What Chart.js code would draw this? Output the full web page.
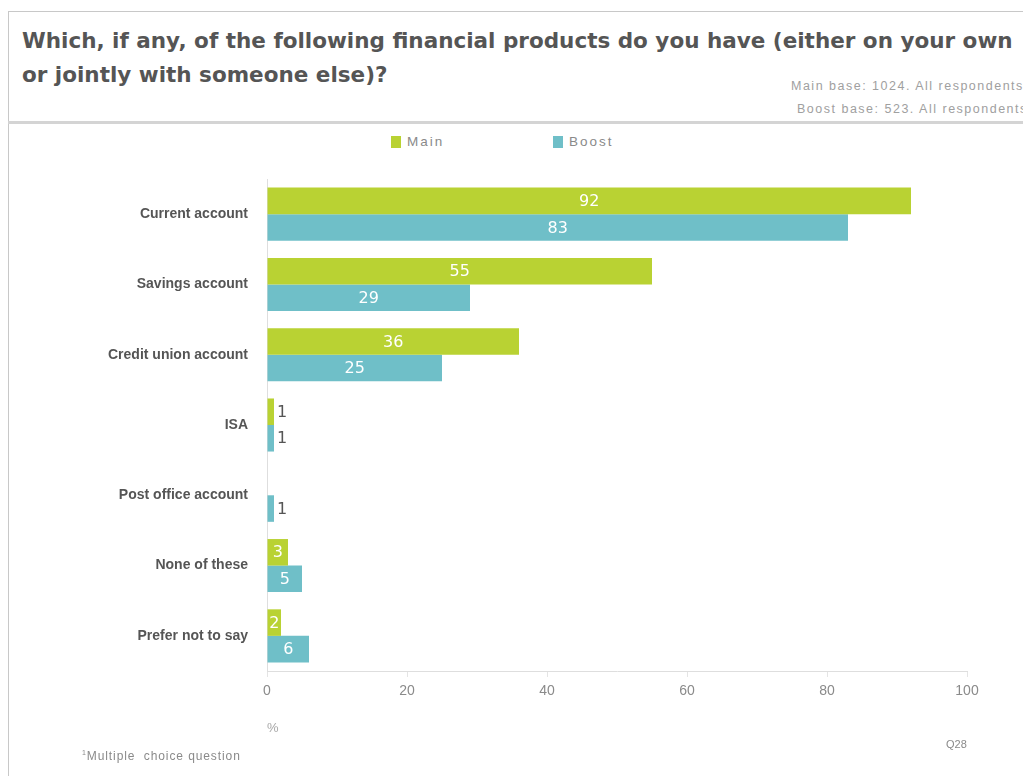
<!DOCTYPE html>
<html>
<head>
<meta charset="utf-8">
<title>Financial products</title>
<script src="https://cdn.jsdelivr.net/npm/chart.js@4"></script>
<style>
  body { margin: 0; width: 1023px; height: 776px; overflow: hidden; background: #fff; position: relative; font-family: "Liberation Sans", Arial, sans-serif; }
  .frame { position: absolute; left: 8px; top: 11px; width: 1100px; height: 900px; border: 1px solid #c8c8c8; }
  .title { position: absolute; left: 22px; top: 24px; font: bold 21.5px "DejaVu Sans", sans-serif; color: #555; line-height: 34px; white-space: nowrap; }
  .base { position: absolute; font: 12.5px "Liberation Sans", sans-serif; letter-spacing: 1.5px; color: #a0a0a0; white-space: nowrap; }
  .sep { position: absolute; left: 8px; top: 121px; width: 1015px; height: 3px; background: #d4d4d4; }
  .legend { position: absolute; top: 134px; font: 13.5px "Liberation Sans", sans-serif; letter-spacing: 2px; color: #8a8a8a; }
  .legend span { display: inline-block; width: 10px; height: 12px; vertical-align: -2px; margin-right: 6px; }
  .foot { position: absolute; font: 12px "Liberation Sans", sans-serif; letter-spacing: 0.9px; color: #8a8a8a; white-space: nowrap; }
  #chartBox { position: absolute; left: 0; top: 160px; width: 1023px; height: 616px; }
</style>
</head>
<body>
<div class="frame"></div>
<div class="title">Which, if any, of the following financial products do you have (either on your own<br>or jointly with someone else)?</div>
<div class="base" style="left:791px; top:79px;">Main base: 1024. All respondents</div>
<div class="base" style="left:797px; top:102px;">Boost base: 523. All respondents</div>
<div class="sep"></div>
<div class="legend" style="left:391px;"><span style="background:#b9d233"></span>Main</div>
<div class="legend" style="left:553px;"><span style="background:#6fbfc8"></span>Boost</div>
<div id="chartBox"><canvas id="myChart"></canvas></div>
<div class="foot" style="left:82px; top:749px;"><sup style="font-size:7px">1</sup>Multiple&nbsp; choice question</div>
<div class="foot" style="left:946px; top:738px; font-size:11px; letter-spacing:0;">Q28</div>

<script>
'use strict';

// ** DATA **

let categories = ['Current account', 'Savings account', 'Credit union account', 'ISA', 'Post office account', 'None of these', 'Prefer not to say'];
let mainValues = [92, 55, 36, 1, null, 3, 2];
let boostValues = [83, 29, 25, 1, 1, 5, 6];
let xTicks = [0, 20, 40, 60, 80, 100];

// ** COLOURS **

const mainColor = '#b9d233';
const boostColor = '#6fbfc8';

// ** VALUE LABELS **

// big bars get a white label in the middle, tiny ones a grey label after the end
const valueLabels = {
  id: 'valueLabels',
  afterDatasetsDraw(chart) {
    let c = chart.ctx;
    c.save();
    c.font = '16px "DejaVu Sans", sans-serif';
    c.textBaseline = 'middle';
    chart.data.datasets.forEach((ds, i) => {
      let meta = chart.getDatasetMeta(i);
      meta.data.forEach((bar, j) => {
        let v = ds.data[j];
        if (v === null || v === undefined) return;
        if (v >= 2) {
          c.fillStyle = '#ffffff';
          c.textAlign = 'center';
          c.fillText(String(v), (bar.x + bar.base) / 2, bar.y + 1);
        } else {
          c.fillStyle = '#555555';
          c.textAlign = 'left';
          c.fillText(String(v), bar.x + 3, bar.y + 1);
        }
      });
    });
    c.restore();
  }
};

// ** CHART **

const ctx = document.getElementById('myChart');

let myChartObj = {
  type: 'bar',
  data: {
    labels: categories,
    datasets: [{
      label: 'Main',
      data: mainValues,
      backgroundColor: mainColor,
      borderWidth: 0,
      categoryPercentage: 0.755,
      barPercentage: 1
    },
    {
      label: 'Boost',
      data: boostValues,
      backgroundColor: boostColor,
      borderWidth: 0,
      categoryPercentage: 0.755,
      barPercentage: 1
    }]
  },
  options: {
    indexAxis: 'y',
    responsive: true,
    maintainAspectRatio: false,
    animation: false,
    layout: { padding: { top: 19, right: 56, left: 0, bottom: 0 } },
    plugins: {
      legend: { display: false },
      tooltip: { enabled: false }
    },
    scales: {
      x: {
        min: 0,
        max: 100,
        afterBuildTicks: (s) => { s.ticks = xTicks.map(v => ({ value: v })); },
        afterFit: (s) => { s.height = 105; },
        grid: { drawOnChartArea: false, drawTicks: true, tickLength: 6, color: '#e4e4e4' },
        border: { display: true, color: '#dedede' },
        ticks: {
          padding: 6,
          color: '#8a8a8a',
          font: { family: '"Liberation Sans", sans-serif', size: 14 }
        },
        title: {
          display: true,
          text: '%',
          align: 'start',
          color: '#a8a8a8',
          font: { family: '"Liberation Sans", sans-serif', size: 13 },
          padding: { top: 0, bottom: 40 }
        }
      },
      y: {
        afterFit: (s) => {
          s.width = 267;
          s.paddingTop = 0;
          s.paddingBottom = 0;
        },
        grid: { display: false, drawTicks: false },
        border: { display: true, color: '#dedede' },
        ticks: {
          padding: 19,
          color: '#555555',
          font: { family: '"Liberation Sans", Arial, sans-serif', size: 14, weight: 'bold' }
        }
      }
    }
  },
  plugins: [valueLabels]
};

new Chart(ctx, myChartObj);
</script>
</body>
</html>
